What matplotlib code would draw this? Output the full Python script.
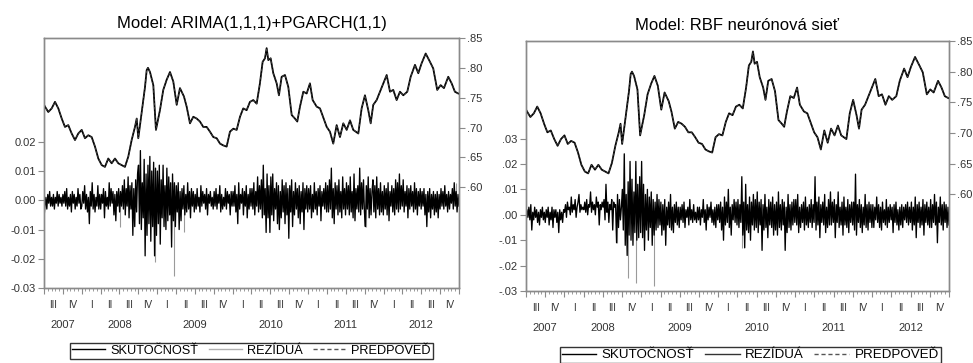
import matplotlib
matplotlib.use("Agg")
import matplotlib.pyplot as plt
from matplotlib.lines import Line2D
import numpy as np

plt.rcParams['font.family'] = ['Liberation Sans', 'DejaVu Sans']

# actual exchange-rate series (same in both panels), year fraction -> value
price_year = [2007.500, 2007.513, 2007.557, 2007.602, 2007.646, 2007.690, 2007.735, 2007.778,
              2007.822, 2007.867, 2007.911, 2007.955, 2008.000, 2008.043, 2008.087, 2008.132,
              2008.176, 2008.220, 2008.265, 2008.308, 2008.352, 2008.397, 2008.441, 2008.485,
              2008.530, 2008.573, 2008.617, 2008.662, 2008.706, 2008.729, 2008.750, 2008.795,
              2008.839, 2008.861, 2008.878, 2008.905, 2008.949, 2008.984, 2009.037, 2009.081,
              2009.126, 2009.170, 2009.214, 2009.259, 2009.302, 2009.355, 2009.391, 2009.435,
              2009.479, 2009.524, 2009.567, 2009.611, 2009.656, 2009.700, 2009.744, 2009.789,
              2009.833, 2009.876, 2009.921, 2009.965, 2010.009, 2010.054, 2010.098, 2010.141,
              2010.186, 2010.230, 2010.274, 2010.319, 2010.362, 2010.398, 2010.429, 2010.451,
              2010.473, 2010.504, 2010.539, 2010.584, 2010.614, 2010.650, 2010.694, 2010.738,
              2010.783, 2010.826, 2010.857, 2010.893, 2010.937, 2010.982, 2011.025, 2011.061,
              2011.114, 2011.158, 2011.206, 2011.247, 2011.290, 2011.334, 2011.379, 2011.423,
              2011.467, 2011.512, 2011.556, 2011.599, 2011.666, 2011.710, 2011.754, 2011.798,
              2011.830, 2011.864, 2011.909, 2011.953, 2011.997, 2012.042, 2012.086, 2012.129,
              2012.174, 2012.218, 2012.262, 2012.315, 2012.360, 2012.417, 2012.461, 2012.506,
              2012.559, 2012.616, 2012.659, 2012.712, 2012.757, 2012.801, 2012.858, 2012.903,
              2012.946, 2012.990]
price_actual = [.738, .735, .726, .732, .743, .732, .715, .701, .704, .690, .679, .690, .696, .682,
                .687, .684, .668, .648, .637, .634, .648, .640, .648, .640, .637, .634, .651, .679,
                .701, .715, .682, .726, .768, .796, .800, .793, .771, .696, .729, .763, .780, .793,
                .777, .738, .766, .752, .735, .707, .718, .715, .710, .701, .701, .693, .684, .682,
                .673, .670, .668, .693, .698, .696, .718, .732, .729, .743, .746, .740, .774, .810,
                .816, .833, .813, .816, .791, .774, .754, .785, .788, .768, .721, .715, .710, .735,
                .760, .757, .774, .746, .735, .732, .715, .701, .693, .673, .704, .684, .707, .696,
                .712, .696, .690, .732, .754, .729, .707, .738, .746, .760, .774, .788, .760, .763,
                .746, .760, .754, .760, .785, .805, .791, .808, .824, .810, .799, .763, .771, .766,
                .785, .774, .760, .757]

# residuals in thousandths, 20 readings per quarter, 2007 Q3 .. 2012 Q4 (one row per quarter)
resid_left_milli = [
    -6, -2, 1, -3, 2, -1, 3, -2, 1, -2, 2, -3, 1, -1, 3, -2, 2, -1, 1, -2,
    2, -1, 3, -2, 4, -3, 1, -2, 2, -4, 3, -1, 2, -3, 1, -2, 4, -1, 2, -3,
    -2, 3, -1, 5, -3, 2, -4, 1, -8, 3, -2, 6, -3, 2, -4, 1, -2, 5, -3, 2,
    -3, 2, -1, 4, -6, 3, -2, 1, -3, 6, -2, 4, -1, 3, -5, 2, -7, 3, -2, 4,
    -4, 3, -2, 5, -3, 7, -5, 4, -2, 8, -6, 5, -3, 6, -12, 4, -9, 7, -4, 9,
    12, -8, 17, -10, 6, -6, 14, -19, 9, -12, 12, -8, 15, -14, 10, -9, 13, -19, 11, -12,
    10, -8, 12, -15, 7, -6, 12, -9, 5, -10, 11, -7, 8, -5, 6, -16, 9, -7, 6, -9,
    5, -4, 6, -10, 3, -7, 4, -3, 5, -5, 2, -4, 6, -3, 3, -6, 4, -2, 3, -4,
    2, -3, 4, -2, 1, -4, 5, -2, 3, -1, 2, -3, 4, -5, 2, -1, 3, -2, 1, -3,
    3, -2, 4, -3, 2, -1, 5, -4, 2, -3, 1, -2, 4, -3, 3, -1, 2, -5, 3, -2,
    3, -2, 5, -4, 2, -8, 6, -3, 2, -1, 4, -5, 3, -2, 5, -6, 2, -3, 4, -2,
    4, -3, 6, -5, 3, -2, 8, -4, 5, -3, 7, -6, 12, -5, 4, -11, 9, -6, 5, -11,
    8, -5, 9, -7, 4, -3, 6, -8, 5, -10, 3, -6, 7, -4, 5, -8, 6, -5, 4, -13,
    5, -4, 7, -9, 3, -5, 6, -3, 4, -6, 5, -8, 3, -4, 6, -10, 4, -3, 5, -4,
    4, -3, 5, -6, 2, -4, 6, -3, 3, -5, 4, -2, 5, -7, 3, -2, 4, -3, 6, -4,
    5, -4, 7, -3, 11, -6, 4, -8, 6, -3, 5, -5, 7, -4, 3, -6, 8, -3, 4, -5,
    6, -3, 5, -5, 8, -4, 3, -6, 9, -7, 4, -3, 5, -4, 11, -5, 6, -3, 7, -4,
    -9, 5, -3, 8, -6, 4, -5, 3, 7, -4, 5, -6, 8, -3, 4, -5, 6, -4, 3, -5,
    5, -3, 4, -5, 6, -7, 3, -2, 5, -4, 4, -5, 7, -3, 6, -4, 9, -3, 5, -2,
    7, -4, 3, -2, 5, -6, 4, -3, 5, -2, 3, -4, 6, -3, 4, -5, 3, -2, 4, -3,
    3, -2, 4, -5, 2, -9, 3, -4, 4, -6, 2, -3, 3, -5, 2, -4, 3, -6, 2, -3,
    4, -2, 3, -3, 5, -2, 2, -4, 3, -3, 2, -1, 4, -3, 6, -2, 3, -4, 2, -2,
]
resid_right_milli = [
    -4, 2, -1, 3, -2, 4, -6, 1, -2, 3, -1, 2, -3, 1, -4, 2, -1, 3, -2, 1,
    -3, 2, -1, 3, -4, 1, -2, 3, -5, 2, -1, 2, -3, 1, -7, 2, -2, 1, -3, 2,
    1, 4, -1, 5, 2, 3, 0, 7, 1, 4, 2, 6, -1, 3, 5, 8, 1, 4, 2, 3,
    2, 5, 1, 6, 0, 4, 3, 9, 1, 5, 2, 4, 0, 7, 3, 5, -4, 4, 2, 5,
    3, 6, -2, 12, 1, 5, -3, 4, 2, 6, -6, 5, 3, 4, -11, 8, -5, 6, -2, 3,
    10, -6, 24, -12, 8, -16, 13, -8, 21, -10, 14, -12, 9, -7, 21, -10, 12, -9, 15, -7,
    21, -9, 12, -14, 8, -6, 10, -10, 7, -5, 9, -12, 6, -8, 5, -6, 8, -5, 6, -4,
    5, -8, 4, -6, 6, -12, 3, -4, 5, -5, 8, -6, 3, -7, 4, -3, 5, -4, 3, -5,
    3, -2, 4, -3, 5, -5, 2, -1, 3, -4, 6, -2, 2, -3, 4, -2, 1, -3, 3, -2,
    3, -4, 2, -1, 6, -3, 2, -6, 4, -2, 3, -1, 5, -3, 2, -4, 3, -5, 4, -2,
    4, -3, 5, -6, 3, -10, 7, -4, 5, -3, 10, -5, 3, -8, 4, -2, 6, -3, 5, -4,
    6, -5, 4, -3, 15, -8, 5, -13, 12, -6, 4, -7, 7, -10, 5, -4, 8, -6, 6, -5,
    9, -7, 5, -4, 6, -14, 4, -6, 8, -5, 3, -9, 6, -4, 5, -5, 7, -8, 4, -6,
    5, -8, 9, -5, 4, -6, 6, -4, 5, -14, 3, -7, 8, -5, 4, -6, 5, -4, 6, -3,
    6, -4, 8, -7, 3, -5, 4, -3, 5, -6, 7, -4, 3, -5, 4, -3, 6, -5, 4, -3,
    15, -6, 5, -4, 7, -9, 4, -3, 5, -4, 8, -7, 3, -5, 6, -4, 9, -4, 5, -3,
    6, -9, 4, -3, 9, -5, 3, -4, 5, -8, 7, -4, 3, -5, 6, -7, 4, -3, 5, -4,
    5, -6, 16, -8, 4, -3, 6, -5, 4, -7, 3, -4, 8, -5, 4, -6, 5, -3, 4, -5,
    4, -5, 3, -2, 7, -3, 4, -5, 3, -6, 5, -3, 2, -4, 6, -5, 3, -3, 4, -2,
    3, -7, 4, -3, 5, -4, 2, -6, 3, -4, 4, -5, 3, -2, 4, -3, 5, -4, 3, -3,
    5, -6, 3, -4, 7, -9, 4, -3, 5, -5, 3, -4, 6, -8, 4, -3, 5, -4, 3, -5,
    6, -5, 4, -3, 8, -4, 5, -11, 3, -3, 7, -4, 4, -6, 5, -3, 4, -5, 3, -4,
]
# thin light spikes that stick out of the dark band
spike_left_year = [2008.507, 2008.970, 2009.220, 2009.355, 2011.767, 2012.960]
spike_left_milli = [-9, -21, -26, -11, -9, 6]
spike_right_year = [2008.683, 2008.774, 2008.826, 2008.930, 2009.164, 2010.308]
spike_right_milli = [-11, 24, -25, -27, -28, -13]

quarter_names = ['I', 'II', 'III', 'IV']
years = [2007, 2008, 2009, 2010, 2011, 2012]
year_label_pos = [2007.75, 2008.5, 2009.5, 2010.5, 2011.5, 2012.5]

panels = [
    dict(rect=[0.0452, 0.2066, 0.4265, 0.6887], title='Model: ARIMA(1,1,1)+PGARCH(1,1)',
         resid=resid_left_milli, sy=spike_left_year, sv=spike_left_milli,
         ylim=(-0.03, 0.0555), yticks=[-0.03, -0.02, -0.01, 0.0, 0.01, 0.02],
         fmt='{:.2f}', rlim=(0.431, 0.85), leg_x=0.2585, leg_y=0.055, res_col='#b0b0b0',
         leg_fs=9.2, title_pad=7),
    dict(rect=[0.5406, 0.1983, 0.4347, 0.6887], title='Model: RBF neurónová sieť',
         resid=resid_right_milli, sy=spike_right_year, sv=spike_right_milli,
         ylim=(-0.03, 0.0684), yticks=[-0.03, -0.02, -0.01, 0.0, 0.01, 0.02, 0.03],
         fmt='short', rlim=(0.442, 0.85), leg_x=0.771, leg_y=0.044, res_col='#333333',
         leg_fs=9.6, title_pad=8),
]


def short(v):
    s = '{:.2f}'.format(v)
    return s.replace('0.', '.')


fig = plt.figure(figsize=(9.73, 3.63), dpi=100)
spine_col = '#8a8a8a'
tick_col = '#333333'

for p in panels:
    ax = fig.add_axes(p['rect'])
    axr = ax.twinx()

    res = np.array(p['resid']) / 1000.0
    rx = np.linspace(2007.5, 2013.0, len(res))
    ax.vlines(p['sy'], 0, np.array(p['sv']) / 1000.0, color='#9a9a9a', lw=0.8, zorder=1)
    ax.plot(rx, res, color='black', lw=0.95, zorder=2)

    axr.plot(price_year, price_actual, color='black', lw=1.3)
    axr.plot(price_year, price_actual, color='#444444', lw=0.6, ls=(0, (3, 2)))

    ax.set_xlim(2007.5, 2013.0)
    ax.set_ylim(*p['ylim'])
    axr.set_ylim(*p['rlim'])
    ax.set_yticks(p['yticks'])
    if p['fmt'] == 'short':
        ax.set_yticklabels([short(v) for v in p['yticks']])
    else:
        ax.set_yticklabels([p['fmt'].format(v) for v in p['yticks']])
    rt = [0.60, 0.65, 0.70, 0.75, 0.80, 0.85]
    axr.set_yticks(rt)
    axr.set_yticklabels([short(v) for v in rt])

    ax.set_xticks(np.arange(2007.5, 2013.01, 0.25))
    ax.set_xticks(np.arange(2007.5, 2013.01, 0.05), minor=True)
    ax.set_xticklabels([])
    ax.tick_params(axis='x', which='major', length=4, width=0.8, color=spine_col)
    ax.tick_params(axis='x', which='minor', length=2.5, width=0.6, color=spine_col)
    ax.tick_params(axis='y', length=4, width=0.8, color=spine_col, labelsize=8,
                   labelcolor=tick_col, pad=2)
    axr.tick_params(axis='y', length=4, width=0.8, color=spine_col, labelsize=8,
                    labelcolor=tick_col, pad=2)
    for a in (ax, axr):
        for s in a.spines.values():
            s.set_color(spine_col)
            s.set_linewidth(1.0)

    tr = ax.get_xaxis_transform()
    qpos = np.arange(2007.5, 2013.0, 0.25) + 0.125
    for q in qpos:
        name = quarter_names[int(round((q - 0.125) % 1 * 4))]
        ax.text(q, -0.068, name, transform=tr, ha='center', va='center',
                fontsize=7, color=tick_col)
    for y, xp in zip(years, year_label_pos):
        ax.text(xp, -0.148, str(y), transform=tr, ha='center', va='center',
                fontsize=8, color=tick_col)

    ax.set_title(p['title'], fontsize=12, pad=p['title_pad'])

    handles = [Line2D([], [], color='black', lw=1.0),
               Line2D([], [], color=p['res_col'], lw=1.0),
               Line2D([], [], color='#555555', lw=1.0, ls=(0, (3, 2)))]
    labels = ['SKUTOČNOSŤ', 'REZÍDUÁ', 'PREDPOVEĎ']
    leg = fig.legend(handles, labels, loc='upper center', ncol=3,
                     bbox_to_anchor=(p['leg_x'], p['leg_y']), fontsize=p['leg_fs'],
                     frameon=True, fancybox=False, borderpad=0.15, handlelength=2.6,
                     handletextpad=0.4, columnspacing=0.8, borderaxespad=0)
    leg.get_frame().set_edgecolor('black')
    leg.get_frame().set_linewidth(1.0)

fig.savefig('out.png', dpi=100)
